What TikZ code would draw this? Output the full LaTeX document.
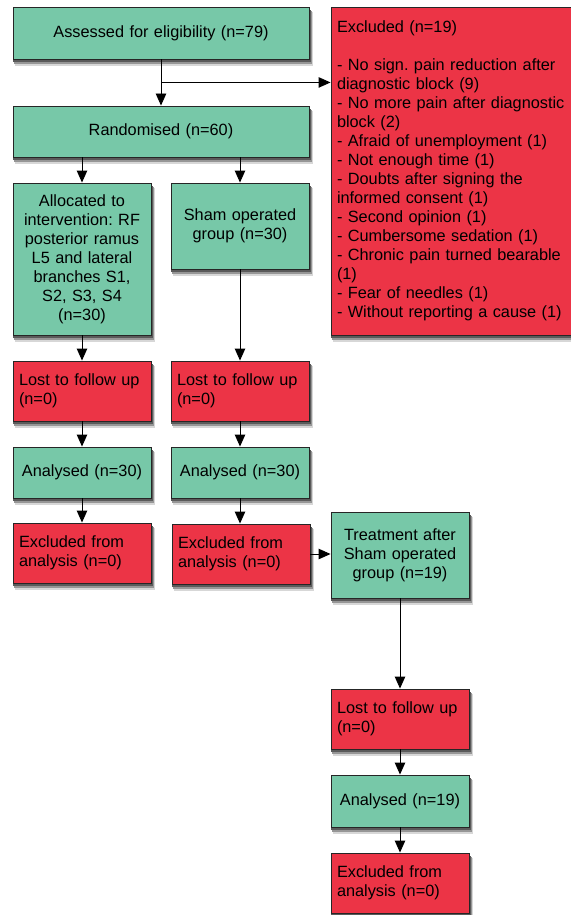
\documentclass[tikz,border=0pt]{standalone}
\usepackage{fontspec}
\setmainfont{Liberation Sans}
\usetikzlibrary{arrows.meta,calc}
\definecolor{boxgreen}{RGB}{119,200,168}
\definecolor{boxred}{RGB}{236,52,70}
\definecolor{shadowA}{RGB}{215,215,215}
\definecolor{shadowB}{RGB}{150,150,150}
\definecolor{shadowC}{RGB}{90,90,90}
\frenchspacing
% #1 name, #2 style, #3 x, #4 y, #5 width, #6 height, #7 text
\newcommand{\shadowbox}[7]{%
  \path[fill=shadowA] ({#3-#5/2+2},{#4-#6/2+5}) rectangle ({#3+#5/2+4},{#4+#6/2+7});
  \path[fill=shadowB] ({#3-#5/2+1},{#4-#6/2+4}) rectangle ({#3+#5/2+3},{#4+#6/2+5});
  \path[fill=shadowC] ({#3-#5/2},{#4-#6/2+3}) rectangle ({#3+#5/2+2},{#4+#6/2+3});
  \node[#2, text width=\dimexpr #5pt-12pt\relax, minimum height=#6pt] (#1) at (#3,#4) {#7};
}
\begin{document}
\begin{tikzpicture}[x=1pt,y=-1pt,
  font=\fontsize{16.3}{19}\selectfont,
  box/.style={draw=black!85, line width=0.9pt, inner xsep=6pt, inner ysep=0pt},
  gbox/.style={box, fill=boxgreen, align=center},
  rbox/.style={box, fill=boxred, align=left},
  arr/.style={line width=0.9pt, -{Triangle[length=12pt,width=10.5pt]}}]
\path[use as bounding box, fill=white] (0,0) rectangle (570,915);

\shadowbox{assess}{gbox}{161}{33}{296}{52}{Assessed for eligibility (n=79)}
\shadowbox{rand}{gbox}{161}{131.5}{296}{51}{Randomised (n=60)}
\shadowbox{alloc}{gbox}{82}{259}{138}{152}{Allocated to\\intervention: RF\\posterior ramus\\L5 and lateral\\branches S1,\\S2, S3, S4\\(n=30)}
\shadowbox{sham}{gbox}{240}{226}{138}{86}{Sham operated\\group (n=30)}
\shadowbox{excl}{rbox}{451.5}{171}{241}{328}{Excluded (n=19)\\[19pt]- No sign. pain reduction after\\diagnostic block (9)\\- No more pain after diagnostic\\block (2)\\- Afraid of unemployment (1)\\- Not enough time (1)\\- Doubts after signing the\\informed consent (1)\\- Second opinion (1)\\- Cumbersome sedation (1)\\- Chronic pain turned bearable\\(1)\\- Fear of needles (1)\\- Without reporting a cause (1)}

\shadowbox{lost1}{rbox}{82}{391}{138}{60}{Lost to follow up\\(n=0)}
\shadowbox{lost2}{rbox}{240}{391}{138}{60}{Lost to follow up\\(n=0)}
\shadowbox{an1}{gbox}{82}{472.5}{138}{51}{Analysed (n=30)}
\shadowbox{an2}{gbox}{240}{472.5}{138}{51}{Analysed (n=30)}
\shadowbox{ex1}{rbox}{82}{553}{138}{60}{Excluded from\\analysis (n=0)}
\shadowbox{ex2}{rbox}{241}{554}{138}{60}{Excluded from\\analysis (n=0)}
\shadowbox{treat}{gbox}{400}{555}{138}{86}{Treatment after\\Sham operated\\group (n=19)}
\shadowbox{lost3}{rbox}{400}{719}{138}{60}{Lost to follow up\\(n=0)}
\shadowbox{an3}{gbox}{400}{801}{138}{52}{Analysed (n=19)}
\shadowbox{ex3}{rbox}{400}{883}{138}{60}{Excluded from\\analysis (n=0)}

\coordinate (br) at ($(assess.south)+(0,23)$);
\draw[arr] (assess.south) -- (rand.north);
\draw[arr] (br) -- (br -| excl.west);
\draw[arr] (rand.south -| alloc.north) -- (alloc.north);
\draw[arr] (rand.south -| sham.north) -- (sham.north);
\draw[arr] (alloc.south) -- (lost1.north);
\draw[arr] (sham.south) -- (lost2.north);
\draw[arr] (lost1.south) -- (an1.north);
\draw[arr] (lost2.south) -- (an2.north);
\draw[arr] (an1.south) -- (ex1.north);
\draw[arr] (an2.south) -- (an2.south |- ex2.north);
\draw[arr] (ex2.east) -- (ex2.east -| treat.west);
\draw[arr] (treat.south) -- (lost3.north);
\draw[arr] (lost3.south) -- (an3.north);
\draw[arr] (an3.south) -- (ex3.north);
\end{tikzpicture}
\end{document}
